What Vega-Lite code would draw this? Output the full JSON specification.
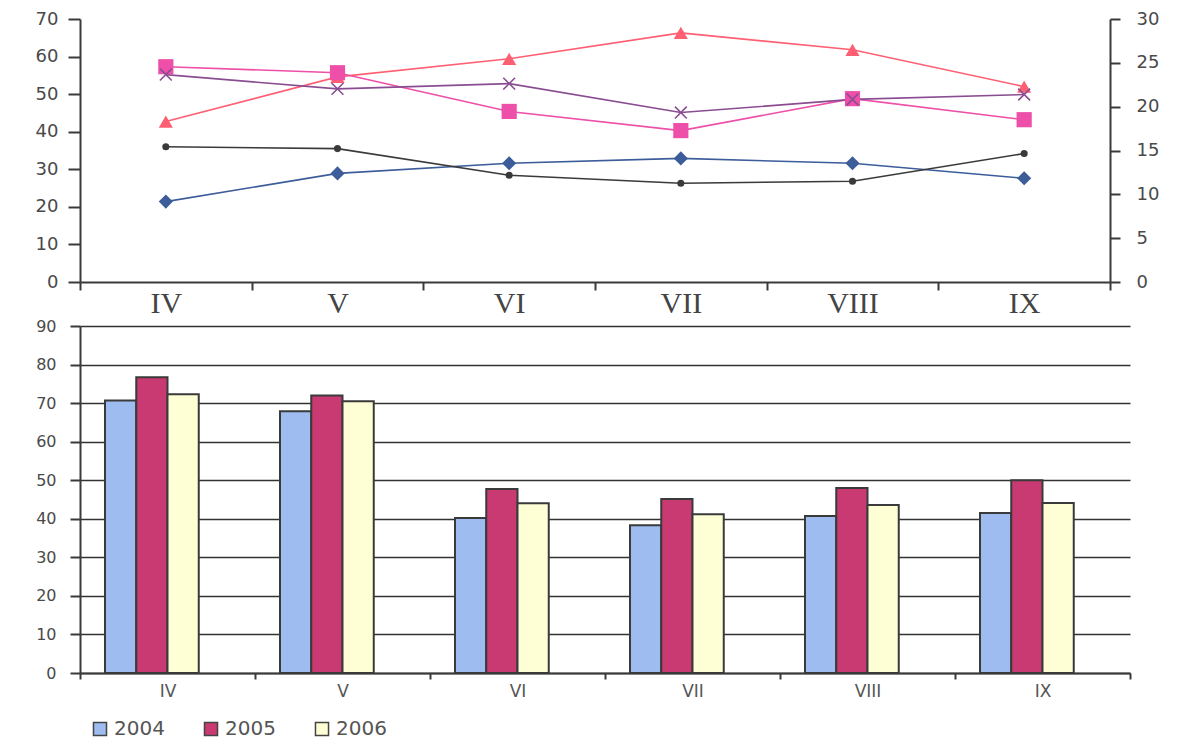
{
  "$schema": "https://vega.github.io/schema/vega-lite/v6.json",
  "background": "white",
  "padding": {"left": 28, "top": 10, "right": 10, "bottom": 5},
  "datasets": {
    "lines": [
      {"month": "IV", "series": "A", "value": 21.4},
      {"month": "V", "series": "A", "value": 28.9},
      {"month": "VI", "series": "A", "value": 31.6},
      {"month": "VII", "series": "A", "value": 32.9},
      {"month": "VIII", "series": "A", "value": 31.6},
      {"month": "IX", "series": "A", "value": 27.6},
      {"month": "IV", "series": "B", "value": 36.0},
      {"month": "V", "series": "B", "value": 35.5},
      {"month": "VI", "series": "B", "value": 28.4},
      {"month": "VII", "series": "B", "value": 26.3},
      {"month": "VIII", "series": "B", "value": 26.8},
      {"month": "IX", "series": "B", "value": 34.2},
      {"month": "IV", "series": "C", "value": 42.7},
      {"month": "V", "series": "C", "value": 54.6},
      {"month": "VI", "series": "C", "value": 59.4},
      {"month": "VII", "series": "C", "value": 66.3},
      {"month": "VIII", "series": "C", "value": 61.8},
      {"month": "IX", "series": "C", "value": 52.0},
      {"month": "IV", "series": "D", "value": 57.3},
      {"month": "V", "series": "D", "value": 55.7},
      {"month": "VI", "series": "D", "value": 45.4},
      {"month": "VII", "series": "D", "value": 40.3},
      {"month": "VIII", "series": "D", "value": 48.8},
      {"month": "IX", "series": "D", "value": 43.2},
      {"month": "IV", "series": "E", "value": 55.2},
      {"month": "V", "series": "E", "value": 51.4},
      {"month": "VI", "series": "E", "value": 52.8},
      {"month": "VII", "series": "E", "value": 45.1},
      {"month": "VIII", "series": "E", "value": 48.6},
      {"month": "IX", "series": "E", "value": 49.9}
    ],
    "right": [{"r": 0}, {"r": 30}],
    "bars": [
      {"month": "IV", "year": "2004", "value": 70.7},
      {"month": "IV", "year": "2005", "value": 76.7},
      {"month": "IV", "year": "2006", "value": 72.3},
      {"month": "V", "year": "2004", "value": 67.9},
      {"month": "V", "year": "2005", "value": 72.0},
      {"month": "V", "year": "2006", "value": 70.5},
      {"month": "VI", "year": "2004", "value": 40.2},
      {"month": "VI", "year": "2005", "value": 47.7},
      {"month": "VI", "year": "2006", "value": 44.0},
      {"month": "VII", "year": "2004", "value": 38.3},
      {"month": "VII", "year": "2005", "value": 45.1},
      {"month": "VII", "year": "2006", "value": 41.2},
      {"month": "VIII", "year": "2004", "value": 40.7},
      {"month": "VIII", "year": "2005", "value": 48.0},
      {"month": "VIII", "year": "2006", "value": 43.6},
      {"month": "IX", "year": "2004", "value": 41.5},
      {"month": "IX", "year": "2005", "value": 50.0},
      {"month": "IX", "year": "2006", "value": 44.1}
    ]
  },
  "config": {
    "view": {"stroke": null},
    "axis": {
      "labelFont": "DejaVu Sans",
      "labelColor": "#4a4a4a",
      "domainColor": "#3a3a3a",
      "tickColor": "#3a3a3a",
      "domainWidth": 2,
      "tickWidth": 2,
      "grid": false,
      "title": null
    }
  },
  "resolve": {"scale": {"color": "independent"}},
  "spacing": 0,
  "vconcat": [
    {
      "width": 1030,
      "height": 263,
      "layer": [
        {
          "data": {"name": "lines"},
          "encoding": {
            "x": {
              "field": "month", "type": "nominal",
              "sort": ["IV", "V", "VI", "VII", "VIII", "IX"],
              "scale": {"paddingInner": 0, "paddingOuter": 0},
              "axis": {
                "labelAngle": 0, "labelFont": "Liberation Serif", "labelFontSize": 30,
                "labelColor": "#444", "tickBand": "extent", "tickSize": 8, "labelPadding": -2
              }
            },
            "y": {
              "field": "value", "type": "quantitative",
              "scale": {"domain": [0, 70]},
              "axis": {"values": [0, 10, 20, 30, 40, 50, 60, 70], "labelFontSize": 18, "tickSize": 12, "labelPadding": 10, "minExtent": 52}
            },
            "color": {
              "field": "series", "type": "nominal",
              "scale": {"domain": ["A", "B", "C", "D", "E"], "range": ["#3C5C9A", "#3a3a3a", "#FF5F73", "#EE4FA8", "#8A4D92"]},
              "legend": null
            }
          },
          "layer": [
            {"mark": {"type": "line", "strokeWidth": 1.6}},
            {
              "transform": [{"filter": "datum.series == 'A'"}],
              "mark": {"type": "point", "filled": true, "opacity": 1, "shape": "diamond", "size": 200}
            },
            {
              "transform": [{"filter": "datum.series == 'B'"}],
              "mark": {"type": "point", "filled": true, "opacity": 1, "shape": "circle", "size": 50}
            },
            {
              "transform": [{"filter": "datum.series == 'C'"}],
              "mark": {"type": "point", "filled": true, "opacity": 1, "shape": "triangle-up", "size": 200}
            },
            {
              "transform": [{"filter": "datum.series == 'D'"}],
              "mark": {"type": "point", "filled": true, "opacity": 1, "shape": "square", "size": 230}
            },
            {
              "transform": [{"filter": "datum.series == 'E'"}],
              "mark": {"type": "point", "filled": false, "shape": "M-1,-1L1,1M-1,1L1,-1", "size": 140, "strokeWidth": 1.6, "opacity": 1}
            }
          ]
        },
        {
          "data": {"name": "right"},
          "mark": {"type": "point", "opacity": 0},
          "encoding": {
            "y": {
              "field": "r", "type": "quantitative",
              "scale": {"domain": [0, 30]},
              "axis": {"orient": "right", "values": [0, 5, 10, 15, 20, 25, 30], "labelFontSize": 18, "tickSize": 10, "labelPadding": 16}
            }
          }
        }
      ],
      "resolve": {"scale": {"y": "independent"}}
    },
    {
      "width": 1050,
      "height": 347,
      "data": {"name": "bars"},
      "mark": {"type": "bar", "stroke": "#3a3a3a", "strokeWidth": 2},
      "encoding": {
        "x": {
          "field": "month", "type": "nominal",
          "sort": ["IV", "V", "VI", "VII", "VIII", "IX"],
          "scale": {"paddingInner": 0, "paddingOuter": 0},
          "axis": {"labelAngle": 0, "labelFontSize": 17, "labelColor": "#555", "tickBand": "extent", "tickSize": 6, "labelPadding": 4}
        },
        "xOffset": {"field": "year", "type": "nominal", "scale": {"domain": ["2004", "2005", "2006", " "], "paddingInner": 0, "paddingOuter": 0.8, "align": 0.5}},
        "y": {
          "field": "value", "type": "quantitative",
          "scale": {"domain": [0, 90]},
          "axis": {
            "values": [0, 10, 20, 30, 40, 50, 60, 70, 80, 90],
            "grid": true, "gridColor": "#333", "gridWidth": 1.6, "gridOpacity": 1,
            "labelFontSize": 16, "tickSize": 10, "labelPadding": 14, "minExtent": 48
          }
        },
        "color": {
          "field": "year", "type": "nominal",
          "scale": {"domain": ["2004", "2005", "2006"], "range": ["#9EBCF0", "#C93A72", "#FFFFD6"]},
          "legend": {
            "orient": "bottom", "direction": "horizontal", "title": null,
            "symbolType": "square", "symbolSize": 170, "symbolStrokeColor": "#444", "symbolStrokeWidth": 1.5,
            "labelFont": "DejaVu Sans", "labelFontSize": 20, "labelColor": "#555",
            "columnPadding": 36, "offset": 10, "padding": 10
          }
        }
      }
    }
  ]
}
